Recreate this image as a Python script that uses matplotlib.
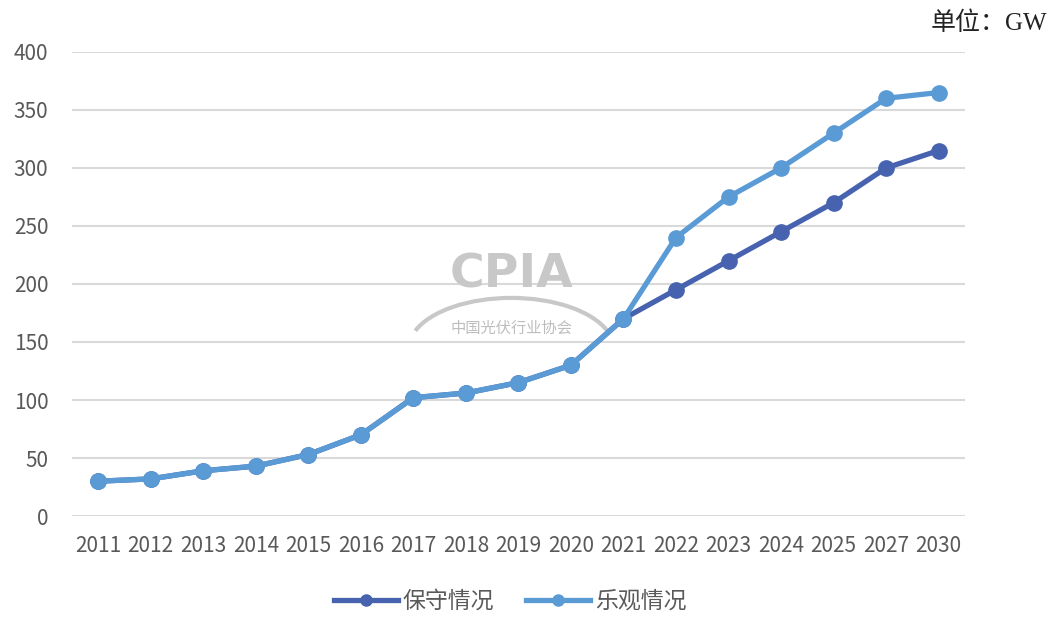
import numpy as np
from matplotlib import pyplot as plt
from matplotlib.patches import Arc

years = ['2011', '2012', '2013', '2014', '2015', '2016', '2017', '2018', '2019',
         '2020', '2021', '2022', '2023', '2024', '2025', '2027', '2030']
# history shared by both scenarios, then the two forecasts from 2022 on
history = [30, 32, 39, 43, 53, 70, 102, 106, 115, 130, 170]
conservative = history + [195, 220, 245, 270, 300, 315]
optimistic = history + [240, 275, 300, 330, 360, 365]

dark = '#4763B0'
light = '#5B9BD5'
cjk = ['Noto Sans CJK SC', 'DejaVu Sans']

fig = plt.figure(figsize=(10.58, 6.18), dpi=100)
ax = fig.add_axes([0.068, 0.165, 0.844, 0.751])

x = np.arange(len(years))
ax.plot(x, conservative, '-o', color=dark, lw=3.8, ms=11, label='保守情况', zorder=3)
ax.plot(x, optimistic, '-o', color=light, lw=3.8, ms=11, label='乐观情况', zorder=4)

ax.set_xlim(-0.5, len(years) - 0.5)
ax.set_ylim(0, 400)
ax.set_yticks(range(0, 401, 50))
ax.set_xticks(x)
ax.set_xticklabels(years)
ax.grid(axis='y', color='#d9d9d9', lw=1.5)
ax.set_axisbelow(True)
for s in ax.spines.values():
    s.set_visible(False)
ax.tick_params(length=0, labelcolor='#595959', labelsize=15)
ax.tick_params(axis='y', pad=17)
ax.tick_params(axis='x', pad=14)
for lab in ax.get_xticklabels() + ax.get_yticklabels():
    lab.set_family(cjk)

# watermark
ax.text(0.492, 0.52, 'CPIA', transform=ax.transAxes, ha='center', va='center',
        fontsize=34, fontweight='bold', color='#c8c8c8', family='DejaVu Sans', zorder=1)
ax.text(0.492, 0.405, '中国光伏行业协会', transform=ax.transAxes, ha='center', va='center',
        fontsize=11, color='#bdbdbd', family=cjk, zorder=1)
ax.add_patch(Arc((0.492, 0.36), 0.23, 0.22, theta1=20, theta2=160, transform=ax.transAxes,
                 color='#c8c8c8', lw=3, zorder=1))

fig.text(0.99, 0.963, '单位：GW', ha='right', va='center', fontsize=18,
         family=['Liberation Serif', 'Noto Sans CJK SC'], color='#222222')

leg = fig.legend(loc='center', bbox_to_anchor=(0.482, 0.027), ncol=2, frameon=False,
                 handlelength=2.8, columnspacing=1.4, handletextpad=0.2,
                 prop={'family': cjk, 'size': 16.5})
for t in leg.get_texts():
    t.set_color('#595959')
for h in leg.legend_handles:
    h.set_markersize(8)

fig.savefig('out.png', dpi=100)
